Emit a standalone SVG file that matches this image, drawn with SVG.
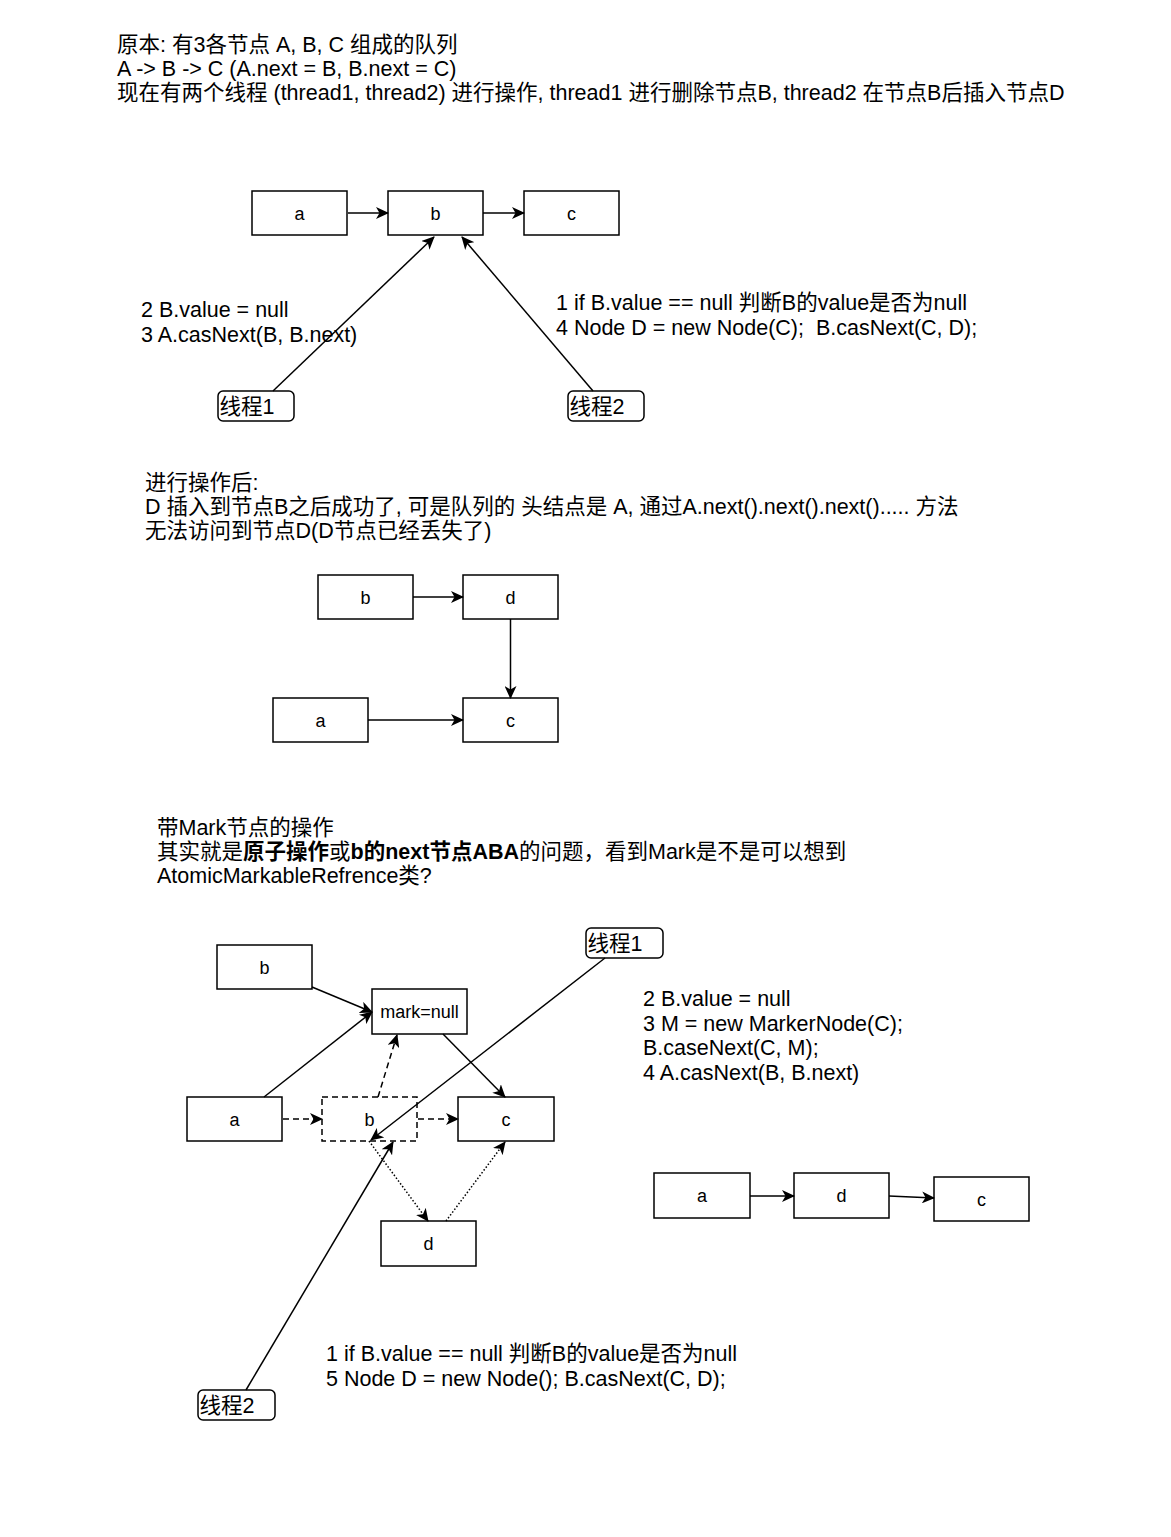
<svg xmlns="http://www.w3.org/2000/svg" width="1171" height="1537" viewBox="0 0 1171 1537">
<style>
  text { font-family: 'Liberation Sans', Arial, 'Noto Sans CJK SC', sans-serif; fill: #000; }
  .t { font-size: 21.5px; }
  .lbl { font-size: 18px; text-anchor: middle; }
  .box { fill: #fff; stroke: #000; stroke-width: 1.5; }
  .dbox { fill: none; stroke: #000; stroke-width: 1.5; stroke-dasharray: 6 4; }
  .th { fill: #fff; stroke: #000; stroke-width: 1.5; }
  .e { fill: none; stroke: #000; stroke-width: 1.5; marker-end: url(#arr); }
  .dash { stroke-dasharray: 6 4; }
  .dot { stroke-dasharray: 1.5 2; }
  .b { font-weight: bold; }
</style>
<defs>
  <marker id="arr" markerUnits="userSpaceOnUse" markerWidth="14" markerHeight="12" refX="12" refY="6" orient="auto" viewBox="0 0 14 12">
    <path d="M0,0 L13,6 L0,12 L3.5,6 Z" fill="#000" stroke="none"/>
  </marker>
</defs>
<rect width="1171" height="1537" fill="#fff"/>

<g id="header">
  <text class="t" x="117" y="52">原本: 有3各节点 A, B, C 组成的队列</text>
  <text class="t" x="117" y="76">A -&gt; B -&gt; C (A.next = B, B.next = C)</text>
  <text class="t" x="117" y="100">现在有两个线程 (thread1, thread2) 进行操作, thread1 进行删除节点B, thread2 在节点B后插入节点D</text>
</g>

<!-- section 1 -->
<g id="s1-a"><rect class="box" x="252" y="191" width="95" height="44"/><text class="lbl" x="299.5" y="220">a</text></g>
<g id="s1-b"><rect class="box" x="388" y="191" width="95" height="44"/><text class="lbl" x="435.5" y="220">b</text></g>
<g id="s1-c"><rect class="box" x="524" y="191" width="95" height="44"/><text class="lbl" x="571.5" y="220">c</text></g>
<g id="s1-thread1"><rect class="th" x="218" y="391" width="76" height="30" rx="5"/><text class="t" x="219.5" y="414">线程1</text></g>
<g id="s1-thread2"><rect class="th" x="568" y="391" width="76" height="30" rx="5"/><text class="t" x="569.5" y="414">线程2</text></g>
<g id="s1-text-left">
  <text class="t" x="141" y="317">2 B.value = null</text>
  <text class="t" x="141" y="342">3 A.casNext(B, B.next)</text>
</g>
<g id="s1-text-right">
  <text class="t" x="556" y="310">1 if B.value == null 判断B的value是否为null</text>
  <text class="t" x="556" y="335" xml:space="preserve">4 Node D = new Node(C);  B.casNext(C, D);</text>
</g>

<!-- section 2 -->
<g id="s2-text">
  <text class="t" x="145" y="490">进行操作后:</text>
  <text class="t" x="145" y="514">D 插入到节点B之后成功了, 可是队列的 头结点是 A, 通过A.next().next().next()..... 方法</text>
  <text class="t" x="145" y="538">无法访问到节点D(D节点已经丢失了)</text>
</g>
<g id="s2-b"><rect class="box" x="318" y="575" width="95" height="44"/><text class="lbl" x="365.5" y="604">b</text></g>
<g id="s2-d"><rect class="box" x="463" y="575" width="95" height="44"/><text class="lbl" x="510.5" y="604">d</text></g>
<g id="s2-a"><rect class="box" x="273" y="698" width="95" height="44"/><text class="lbl" x="320.5" y="727">a</text></g>
<g id="s2-c"><rect class="box" x="463" y="698" width="95" height="44"/><text class="lbl" x="510.5" y="727">c</text></g>

<!-- section 3 -->
<g id="s3-text">
  <text class="t" x="157" y="835">带Mark节点的操作</text>
  <text class="t" x="157" y="859">其实就是<tspan class="b">原子操作</tspan>或<tspan class="b">b的next节点ABA</tspan>的问题，看到Mark是不是可以想到</text>
  <text class="t" x="157" y="883">AtomicMarkableRefrence类?</text>
</g>
<g id="s3-b"><rect class="box" x="217" y="945" width="95" height="44"/><text class="lbl" x="264.5" y="974">b</text></g>
<g id="s3-mark"><rect class="box" x="372" y="989" width="95" height="45"/><text class="lbl" x="419.5" y="1018">mark=null</text></g>
<g id="s3-a"><rect class="box" x="187" y="1097" width="95" height="44"/><text class="lbl" x="234.5" y="1126">a</text></g>
<g id="s3-bdash"><rect class="dbox" x="322" y="1097" width="95" height="44"/><text class="lbl" x="369.5" y="1126">b</text></g>
<g id="s3-c"><rect class="box" x="458" y="1097" width="96" height="44"/><text class="lbl" x="506" y="1126">c</text></g>
<g id="s3-d"><rect class="box" x="381" y="1221" width="95" height="45"/><text class="lbl" x="428.5" y="1250">d</text></g>
<g id="s3-thread1"><rect class="th" x="586" y="928" width="77" height="30" rx="5"/><text class="t" x="587.5" y="951">线程1</text></g>
<g id="s3-thread2"><rect class="th" x="198" y="1390" width="77" height="30" rx="5"/><text class="t" x="199.5" y="1413">线程2</text></g>
<g id="s3-text-right">
  <text class="t" x="643" y="1006">2 B.value = null</text>
  <text class="t" x="643" y="1031">3 M = new MarkerNode(C);</text>
  <text class="t" x="643" y="1055">B.caseNext(C, M);</text>
  <text class="t" x="643" y="1080">4 A.casNext(B, B.next)</text>
</g>
<g id="s3r-a"><rect class="box" x="654" y="1173" width="96" height="45"/><text class="lbl" x="702" y="1202">a</text></g>
<g id="s3r-d"><rect class="box" x="794" y="1173" width="95" height="45"/><text class="lbl" x="841.5" y="1202">d</text></g>
<g id="s3r-c"><rect class="box" x="934" y="1177" width="95" height="44"/><text class="lbl" x="981.5" y="1206">c</text></g>
<g id="s3-text-bottom">
  <text class="t" x="326" y="1361">1 if B.value == null 判断B的value是否为null</text>
  <text class="t" x="326" y="1386">5 Node D = new Node(); B.casNext(C, D);</text>
</g>

<g id="connectors">
  <!-- section 1 -->
  <line class="e" x1="348" y1="213" x2="388" y2="213"/>
  <line class="e" x1="483" y1="213" x2="524" y2="213"/>
  <line class="e" x1="273" y1="391" x2="434" y2="237"/>
  <line class="e" x1="593" y1="391" x2="462" y2="237"/>
  <!-- section 2 -->
  <line class="e" x1="413" y1="597" x2="463" y2="597"/>
  <line class="e" x1="510.5" y1="619" x2="510.5" y2="698"/>
  <line class="e" x1="368" y1="720" x2="463" y2="720"/>
  <!-- section 3 -->
  <line class="e" x1="312" y1="987" x2="372" y2="1012"/>
  <line class="e" x1="264" y1="1097" x2="372" y2="1012"/>
  <line class="e" x1="443" y1="1034" x2="505" y2="1097"/>
  <line class="e dash" x1="283" y1="1119" x2="322" y2="1119"/>
  <line class="e dash" x1="418" y1="1119" x2="458" y2="1119"/>
  <line class="e dash" x1="378" y1="1097" x2="397" y2="1035"/>
  <line class="e dot" x1="369" y1="1141" x2="428" y2="1221"/>
  <line class="e dot" x1="446" y1="1221" x2="505" y2="1142"/>
  <line class="e" x1="605" y1="958" x2="371" y2="1140"/>
  <line class="e" x1="246" y1="1390" x2="393" y2="1142"/>
  <line class="e" x1="750" y1="1196" x2="794" y2="1196"/>
  <line class="e" x1="889" y1="1196" x2="934" y2="1198"/>
</g>
</svg>
